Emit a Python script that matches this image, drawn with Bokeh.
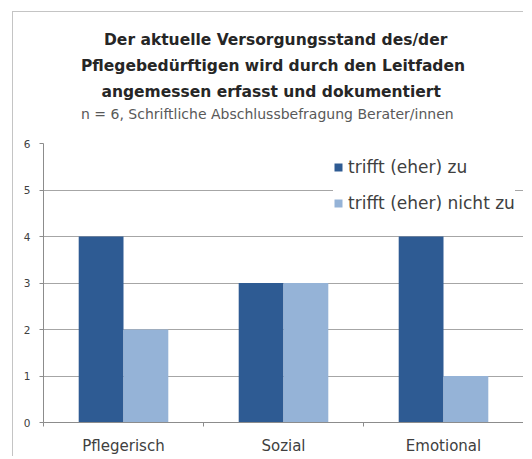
from bokeh.plotting import figure
from bokeh.models import (ColumnDataSource, FixedTicker, Legend, LegendItem, Title)
from bokeh.embed import file_html
from bokeh.resources import INLINE

categories = ["Pflegerisch", "Sozial", "Emotional"]
series_names = ["trifft (eher) zu", "trifft (eher) nicht zu"]
trifft_zu = [4, 3, 4]
trifft_nicht_zu = [2, 3, 1]
y_ticks = [0, 1, 2, 3, 4, 5, 6]
title_lines = ["Der aktuelle Versorgungsstand des/der",
               "Pflegebedürftigen wird durch den Leitfaden",
               "angemessen erfasst und dokumentiert"]
subtitle = "n = 6, Schriftliche Abschlussbefragung Berater/innen"

DARK = "#2E5B93"
LIGHT = "#95B3D7"
FONT = "DejaVu Sans"

centers = [i + 0.5 for i in range(len(categories))]
src = ColumnDataSource(dict(
    x1=[c - 0.14 for c in centers], x2=[c + 0.14 for c in centers],
    a=trifft_zu, b=trifft_nicht_zu))

p = figure(width=511, height=445, output_backend="svg", toolbar_location=None,
           x_range=(0, 3), y_range=(0, 6),
           min_border_left=30, min_border_right=1, min_border_top=131, min_border_bottom=29)
p.margin = (11, 0, 0, 12)
p.styles = {"border-left": "1px solid #c4c4c4", "border-top": "1px solid #c4c4c4"}
p.outline_line_color = None
p.background_fill_color = "white"
p.border_fill_color = "white"

r1 = p.vbar(x="x1", top="a", width=0.28, source=src, color=DARK, line_color=None)
r2 = p.vbar(x="x2", top="b", width=0.28, source=src, color=LIGHT, line_color=None)

# axes
p.xaxis.ticker = FixedTicker(ticks=centers, minor_ticks=[0, 1, 2, 3])
p.xaxis.major_label_overrides = {c: n for c, n in zip(centers, categories)}
p.xaxis.major_tick_out = 0
p.xaxis.major_tick_in = 0
p.xaxis.minor_tick_out = 4
p.xaxis.minor_tick_in = 0
p.xaxis.minor_tick_line_color = "#8c8c8c"
p.xaxis.axis_line_color = "#8c8c8c"
p.xaxis.major_label_text_font = FONT
p.xaxis.major_label_text_font_size = "15px"
p.xaxis.major_label_text_color = "#404040"
p.xaxis.major_label_standoff = 10

p.yaxis.ticker = FixedTicker(ticks=y_ticks, minor_ticks=[])
p.yaxis.axis_line_color = "#8c8c8c"
p.yaxis.major_tick_line_color = "#8c8c8c"
p.yaxis.major_tick_out = 4
p.yaxis.major_tick_in = 0
p.yaxis.major_label_text_font = FONT
p.yaxis.major_label_text_font_size = "10.5px"
p.yaxis.major_label_text_color = "#404040"
p.yaxis.major_label_standoff = 9

p.xgrid.grid_line_color = None
p.ygrid.ticker = FixedTicker(ticks=y_ticks[1:])
p.ygrid.grid_line_color = "#a6a6a6"

# legend
legend = Legend(items=[LegendItem(label=series_names[0], renderers=[r1]),
                       LegendItem(label=series_names[1], renderers=[r2])],
                location=(290, 209), orientation="vertical",
                glyph_width=10, glyph_height=10, label_standoff=5,
                label_height=20, spacing=16, padding=8, margin=0,
                label_text_font=FONT, label_text_font_size="17px",
                label_text_color="#404040", border_line_color=None,
                background_fill_color="white", background_fill_alpha=1.0)
p.add_layout(legend, "center")

# titles (added closest-first)
p.add_layout(Title(text=" ", text_font=FONT, text_font_size="10px", standoff=9), "above")
p.add_layout(Title(text=subtitle, align="left", offset=37.5, text_font=FONT,
                   text_font_size="14px", text_font_style="normal",
                   text_color="#595959", standoff=0), "above")
title_offsets = [60.5, 37.5, 58]
for line, off in reversed(list(zip(title_lines, title_offsets))):
    p.add_layout(Title(text=line, align="left", offset=off, text_font=FONT,
                       text_font_size="15.5px", text_font_style="bold",
                       text_color="#262626", standoff=6), "above")

open("out.html", "w").write(file_html(p, INLINE))
